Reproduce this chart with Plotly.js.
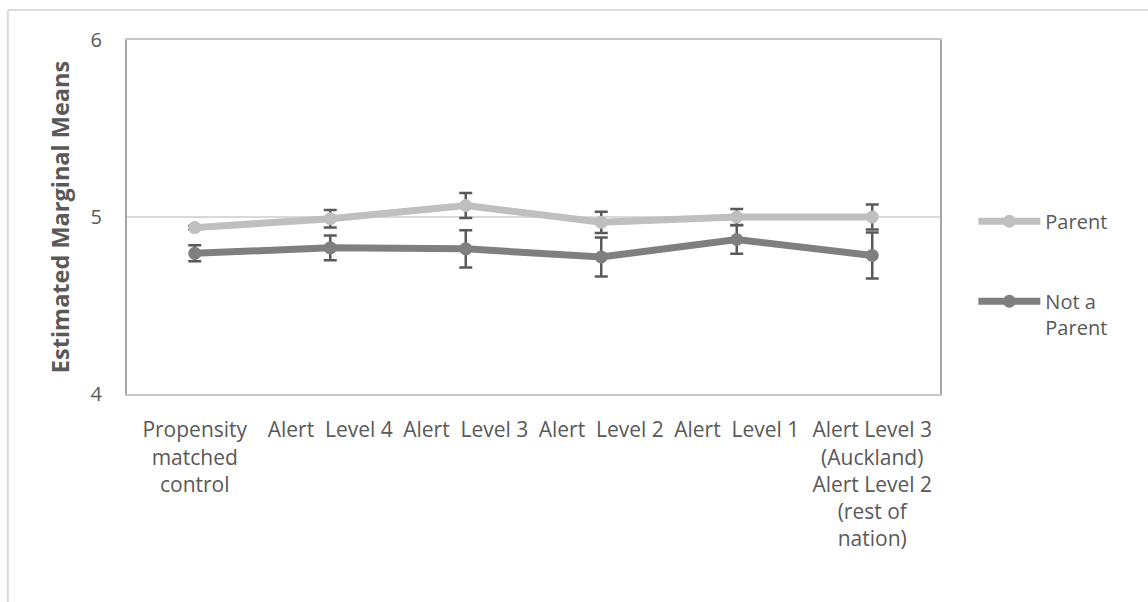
<!DOCTYPE html>
<html>
<head>
<meta charset="utf-8">
<script src="https://cdn.plot.ly/plotly-3.0.1.min.js"></script>
<style>html,body{margin:0;padding:0;background:#fff;}</style>
</head>
<body>
<div id="chart" style="width:1148px;height:602px;"></div>
<script>
const categories = [
  "Propensity<br>matched<br>control",
  "Alert  Level 4",
  "Alert  Level 3",
  "Alert  Level 2",
  "Alert  Level 1",
  "Alert Level 3<br>(Auckland)<br>Alert Level 2<br>(rest of<br>nation)"
];
const parentMeans = [4.94, 4.99, 5.065, 4.97, 5.00, 5.00];
const parentErr   = [0.01, 0.05, 0.07, 0.06, 0.045, 0.07];
const notParentMeans = [4.795, 4.826, 4.82, 4.774, 4.873, 4.783];
const notParentErr   = [0.045, 0.07, 0.105, 0.11, 0.08, 0.13];
const yTicks = [4, 5, 6];

const errStyle = {type: 'data', visible: true, color: '#595959', thickness: 2.5, width: 6.5};

const traces = [
  {
    x: categories, y: parentMeans, name: 'Parent', type: 'scatter', mode: 'lines+markers',
    legendgroup: 'a',
    line: {color: '#bfbfbf', width: 7},
    marker: {color: '#bfbfbf', size: 13},
    error_y: Object.assign({array: parentErr}, errStyle)
  },
  {
    x: categories, y: notParentMeans, name: 'Not a<br>Parent', type: 'scatter', mode: 'lines+markers',
    legendgroup: 'b',
    line: {color: '#7f7f7f', width: 7},
    marker: {color: '#7f7f7f', size: 13},
    error_y: Object.assign({array: notParentErr}, errStyle)
  }
];

const font = {family: 'Open Sans, Liberation Sans, sans-serif', color: '#595959'};

const layout = {
  width: 1148, height: 602,
  margin: {l: 127, r: 208, t: 40, b: 208, pad: 0},
  paper_bgcolor: '#fff', plot_bgcolor: '#fff',
  font: Object.assign({size: 20}, font),
  showlegend: true,
  legend: {
    x: 1.041, y: 0.543, xanchor: 'left', yanchor: 'top',
    font: Object.assign({size: 20}, font),
    traceorder: 'grouped', tracegroupgap: 51, itemwidth: 62, valign: 'top',
    bgcolor: 'rgba(0,0,0,0)'
  },
  xaxis: {
    type: 'category', range: [-0.5, 5.5],
    showgrid: false, zeroline: false,
    showline: true, linecolor: '#c8c8c8', linewidth: 2, mirror: true,
    ticks: '', tickangle: 0, ticklabelstandoff: 16,
    tickfont: Object.assign({size: 21}, font),
    fixedrange: true
  },
  yaxis: {
    range: [4, 6], tickvals: yTicks, ticktext: yTicks.map(String),
    showgrid: true, gridcolor: '#d9d9d9', gridwidth: 2,
    zeroline: false,
    showline: true, linecolor: '#a6a6a6', linewidth: 2, mirror: true,
    ticks: '', ticklen: 0, ticklabelstandoff: 19,
    tickfont: Object.assign({size: 20}, font),
    title: {text: '<b>Estimated Marginal Means</b>', font: Object.assign({size: 23.5}, font), standoff: 14},
    fixedrange: true
  },
  shapes: [
    {type: 'line', xref: 'paper', yref: 'paper', x0: -0.1466, x1: 1.3, y0: 1.0845, y1: 1.0845,
     line: {color: '#d9d9d9', width: 2}},
    {type: 'line', xref: 'paper', yref: 'paper', x0: -0.1466, x1: -0.1466, y0: 1.0845, y1: -0.6,
     line: {color: '#d9d9d9', width: 2}}
  ]
};

Plotly.newPlot('chart', traces, layout, {displayModeBar: false, staticPlot: true});
</script>
</body>
</html>
